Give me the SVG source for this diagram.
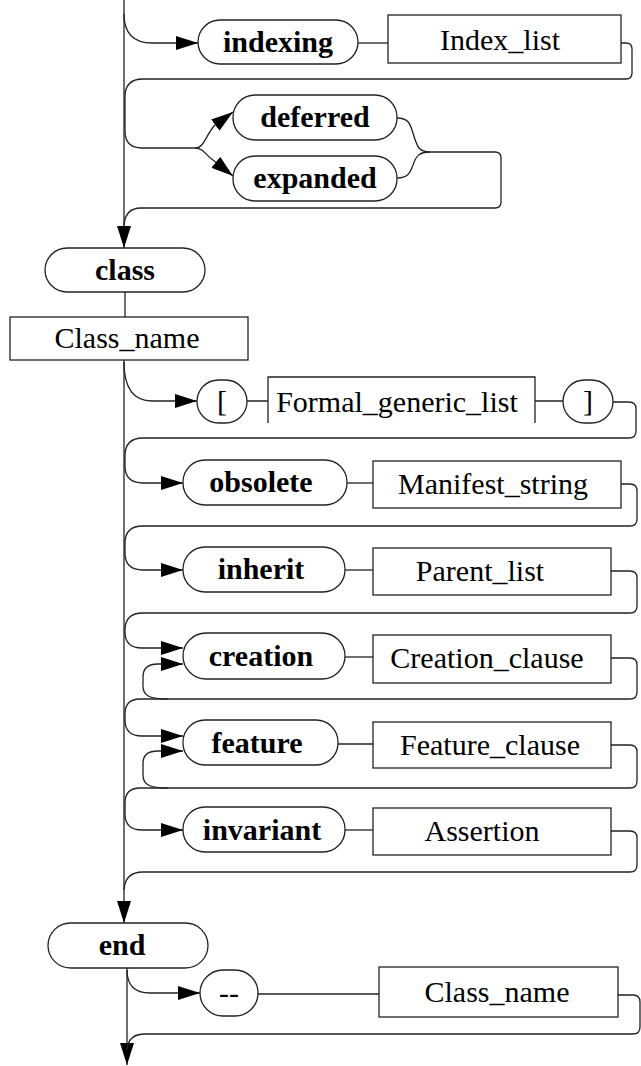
<svg xmlns="http://www.w3.org/2000/svg" width="641" height="1066" viewBox="0 0 641 1066">
<defs>
<marker id="ah" markerWidth="22" markerHeight="14" refX="22" refY="7" orient="auto" markerUnits="userSpaceOnUse">
<path d="M0,0 L22,7 L0,14 z" fill="#000"/>
</marker>
</defs>
<style>
.c{fill:none;stroke:#222;stroke-width:1.3}
.a{marker-end:url(#ah)}
.n{fill:#fff;stroke:#222;stroke-width:1.3}
.k{font-family:"Liberation Serif","Times New Roman",serif;font-weight:bold;font-size:30px;text-anchor:middle;fill:#000}
.t{font-family:"Liberation Serif","Times New Roman",serif;font-size:30px;text-anchor:middle;fill:#000}
</style>
<rect width="641" height="1066" fill="#fff"/>
<g id="connectors">
<path class="c a" d="M124,0 L124,248"/>
<path class="c a" d="M124,14 Q124,43 152,43 L198,43"/>
<path class="c" d="M358,43 L388,43"/>
<path class="c" d="M621,43 L626,43 Q632,43 632,49 L632,73 Q632,79 626,79 L143,79 Q125,79 125,97 L125,131 Q125,148 142,148 L195,148"/>
<path class="c a" d="M195,148 C204,148 205,137 214,126 L233,112"/>
<path class="c a" d="M195,148 C204,148 206,156 213,160 L233,176"/>
<path class="c" d="M397,118 C408,118 410,123 413,133 C417,147 419,152 430,152 L495,152 Q501,152 501,158 L501,202 Q501,208 495,208 L141,208 Q125,208 124,226"/>
<path class="c" d="M397,178 C408,178 410,173 413,165 C416,156 419,152 430,152"/>
<path class="c" d="M125,292 L125,317"/>
<path class="c a" d="M124,360 L124,923"/>
<path class="c a" d="M124,362 Q124,401 152,401 L197,401"/>
<path class="c" d="M247,401 L268,401 M535,401 L563,401"/>
<path class="c a" d="M613,402 L629,402 Q636,402 636,409 L636,431 Q636,438 629,438 L143,438 Q125,438 125,456 L125,466 Q125,483 143,483 L183,483"/>
<path class="c" d="M347,483 L373,483"/>
<path class="c a" d="M621,484 L630,484 Q637,484 637,491 L637,519 Q637,526 630,526 L143,526 Q125,526 125,543 L125,553 Q125,570 143,570 L183,570"/>
<path class="c" d="M345,570 L373,570"/>
<path class="c a" d="M611,571 L630,571 Q637,571 637,578 L637,606 Q637,613 630,613 L143,613 Q125,613 125,630 L125,632 Q125,648 142,648 L183,648"/>
<path class="c" d="M345,657 L373,657"/>
<path class="c a" d="M611,658 L630,658 Q637,658 637,665 L637,692 Q637,699 630,699 L140,699 Q125,699 125,714 L125,720 Q125,736 142,736 L183,736"/>
<path class="c a" d="M168,699 C150,699 143,696 143,686 L143,677 C143,668 148,664 158,664 L183,664"/>
<path class="c" d="M338,744 L373,744"/>
<path class="c a" d="M611,745 L630,745 Q637,745 637,752 L637,781 Q637,788 630,788 L140,788 Q125,788 125,803 L125,814 Q125,830 142,830 L183,830"/>
<path class="c a" d="M168,788 C150,788 143,785 143,775 L143,763 C143,755 148,751 158,751 L183,751"/>
<path class="c" d="M345,830 L373,830"/>
<path class="c" d="M611,831 L630,831 Q637,831 637,838 L637,865 Q637,872 630,872 L143,872 Q125,872 124,890"/>
<path class="c a" d="M127,968 L127,1065"/>
<path class="c a" d="M127,970 Q127,993 150,993 L200,993"/>
<path class="c" d="M258,994 L379,994"/>
<path class="c" d="M618,995 L633,995 Q640,995 640,1002 L640,1027 Q640,1034 633,1034 L145,1034 Q128,1034 127,1050"/>
</g>
<g id="n-indexing"><rect class="n" x="198" y="20" width="160" height="44" rx="22"/><text class="k" x="278" y="52">indexing</text></g>
<g id="n-index-list"><rect class="n" x="388" y="15" width="233" height="48"/><text class="t" x="500" y="50">Index_list</text></g>
<g id="n-deferred"><rect class="n" x="233" y="95" width="164" height="45" rx="22"/><text class="k" x="315" y="127">deferred</text></g>
<g id="n-expanded"><rect class="n" x="233" y="156" width="164" height="45" rx="22"/><text class="k" x="315" y="188">expanded</text></g>
<g id="n-class"><rect class="n" x="45" y="248" width="160" height="44" rx="22"/><text class="k" x="125" y="280">class</text></g>
<g id="n-class-name"><rect class="n" x="10" y="317" width="238" height="43"/><text class="t" x="127" y="348">Class_name</text></g>
<g id="n-lbracket"><rect class="n" x="197" y="380" width="50" height="43" rx="21.5"/><text class="t" x="222" y="411">[</text></g>
<g id="n-formal-generic-list"><rect x="268" y="377" width="267" height="46" fill="#fff"/><path class="c" d="M268,423 V377 H535 V423"/><text class="t" x="397" y="412">Formal_generic_list</text></g>
<g id="n-rbracket"><rect class="n" x="563" y="380" width="50" height="43" rx="21.5"/><text class="t" x="588" y="411">]</text></g>
<g id="n-obsolete"><rect class="n" x="183" y="460" width="164" height="45" rx="22"/><text class="k" x="261" y="492">obsolete</text></g>
<g id="n-manifest-string"><rect class="n" x="373" y="461" width="248" height="47"/><text class="t" x="493" y="494">Manifest_string</text></g>
<g id="n-inherit"><rect class="n" x="183" y="547" width="162" height="45" rx="22"/><text class="k" x="261" y="579">inherit</text></g>
<g id="n-parent-list"><rect class="n" x="373" y="548" width="238" height="47"/><text class="t" x="480" y="581">Parent_list</text></g>
<g id="n-creation"><rect class="n" x="183" y="633" width="162" height="46" rx="23"/><text class="k" x="261" y="666">creation</text></g>
<g id="n-creation-clause"><rect class="n" x="373" y="635" width="238" height="48"/><text class="t" x="487" y="668">Creation_clause</text></g>
<g id="n-feature"><rect class="n" x="183" y="720" width="155" height="45" rx="22"/><text class="k" x="257" y="753">feature</text></g>
<g id="n-feature-clause"><rect class="n" x="373" y="722" width="238" height="46"/><text class="t" x="490" y="755">Feature_clause</text></g>
<g id="n-invariant"><rect class="n" x="183" y="807" width="162" height="45" rx="22"/><text class="k" x="262" y="840">invariant</text></g>
<g id="n-assertion"><rect class="n" x="373" y="808" width="238" height="47"/><text class="t" x="482" y="841">Assertion</text></g>
<g id="n-end"><rect class="n" x="48" y="923" width="160" height="45" rx="22.5"/><text class="k" x="122" y="955">end</text></g>
<g id="n-comment"><rect class="n" x="200" y="970" width="58" height="46" rx="23"/><text class="t" x="229" y="1003">--</text></g>
<g id="n-class-name-2"><rect class="n" x="379" y="967" width="239" height="50"/><text class="t" x="497" y="1002">Class_name</text></g>
</svg>
